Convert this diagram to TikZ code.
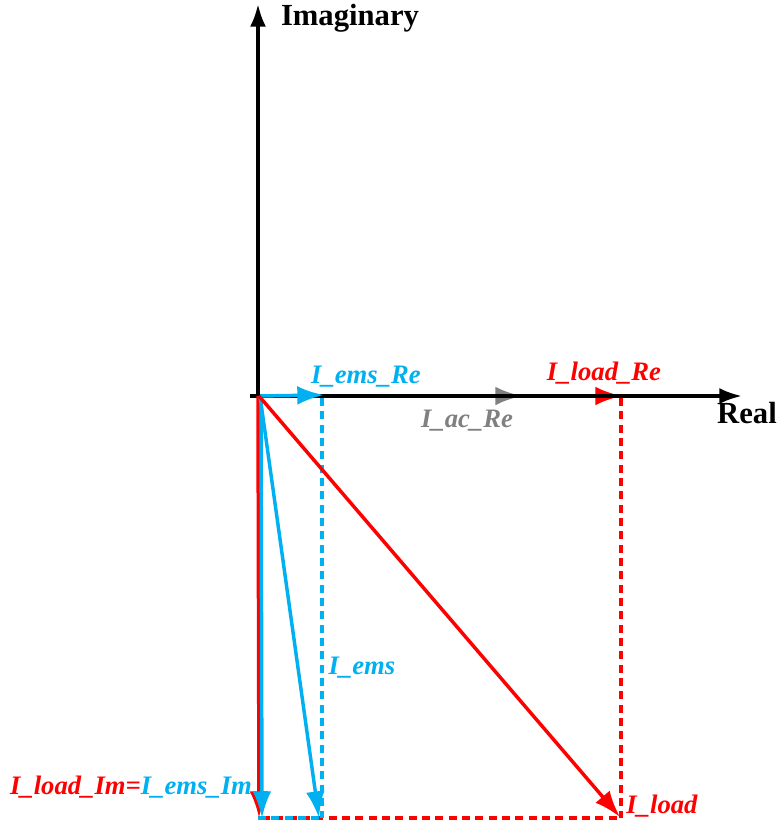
\documentclass[tikz,border=0pt]{standalone}
\usepackage{fontspec}
\setmainfont{Liberation Serif}
\usetikzlibrary{arrows.meta, positioning, calc}
\definecolor{emsblue}{RGB}{0,176,240}
\definecolor{loadred}{RGB}{255,0,0}
\definecolor{acgray}{RGB}{128,128,128}

\begin{document}
\begin{tikzpicture}[
    x=0.75pt, y=-0.75pt,
    axis/.style={line width=2.6pt, -{Latex[length=17pt, width=12pt]}},
    vec/.style={line width=2.6pt, -{Latex[length=20pt, width=14pt]}},
    proj/.style={line width=2.6pt, dash pattern=on 6pt off 4pt},
    lbl/.style={font=\fontsize{20}{24}\selectfont\bfseries\itshape, inner sep=0pt},
    axlbl/.style={font=\fontsize{23}{27}\selectfont\bfseries, inner sep=0pt},
]
\useasboundingbox (0,0) rectangle (780,824);

% Points of the phasor diagram
\coordinate (O) at (258,396);
\coordinate (reStart) at (250,396);
\coordinate (reEnd) at (742,396);
\coordinate (imEnd) at (258,4);
\coordinate (emsRe) at (324,395);
\coordinate (acRe) at (522,396);
\coordinate (loadRe) at (622,396);
\coordinate (loadImEnd) at (259,818);
\coordinate (emsImEnd) at (262,818);
\coordinate (emsEnd) at (319,818);
\coordinate (loadEnd) at (620,817);
\coordinate (emsCorner) at (322,818);
\coordinate (loadCorner) at (621,818);
\coordinate (emsTop) at (322,398);
\coordinate (loadTop) at (621,398);

% Projections
\draw[proj, loadred] (loadTop) -- (loadCorner);
\draw[proj, loadred] (emsImEnd) -- (loadCorner);
\draw[proj, emsblue] (emsTop) -- (emsCorner);
\draw[proj, emsblue] (O |- emsCorner) -- (emsCorner);

% Real components
\draw[vec, loadred] (O) -- (loadRe);
\draw[vec, acgray] (O) -- (acRe);
\draw[axis] (reStart) -- (reEnd);
\draw[vec, emsblue] (O) -- (emsRe);
\draw[axis] (O) -- (imEnd);

% Current phasors
\draw[vec, loadred] (O) -- (loadImEnd);
\draw[vec, emsblue] ($(O)+(3,0)$) -- (emsImEnd);
\draw[vec, emsblue] ($(O)+(2,0)$) -- (emsEnd);
\draw[vec, loadred] ($(O)+(1,0)$) -- (loadEnd);

% Labels
\node[axlbl] (imLbl) at (350,18) {Imaginary};
\node[axlbl] (reLbl) at (747,413) {Real};
\node[lbl, text=emsblue] (emsReLbl) at (366,377) {I\_ems\_Re};
\node[lbl, text=loadred] (loadReLbl) at (604,373) {I\_load\_Re};
\node[lbl, text=acgray] (acReLbl) at (467,421) {I\_ac\_Re};
\node[lbl, text=emsblue] (emsLbl) at (362,668) {I\_ems};
\node[lbl, text=loadred] (loadLbl) at (662,806) {I\_load};
\node[lbl] (imLbl2) at (131,787) {\textcolor{loadred}{I\_load\_Im=}\textcolor{emsblue}{I\_ems\_Im}};

\end{tikzpicture}
\end{document}
